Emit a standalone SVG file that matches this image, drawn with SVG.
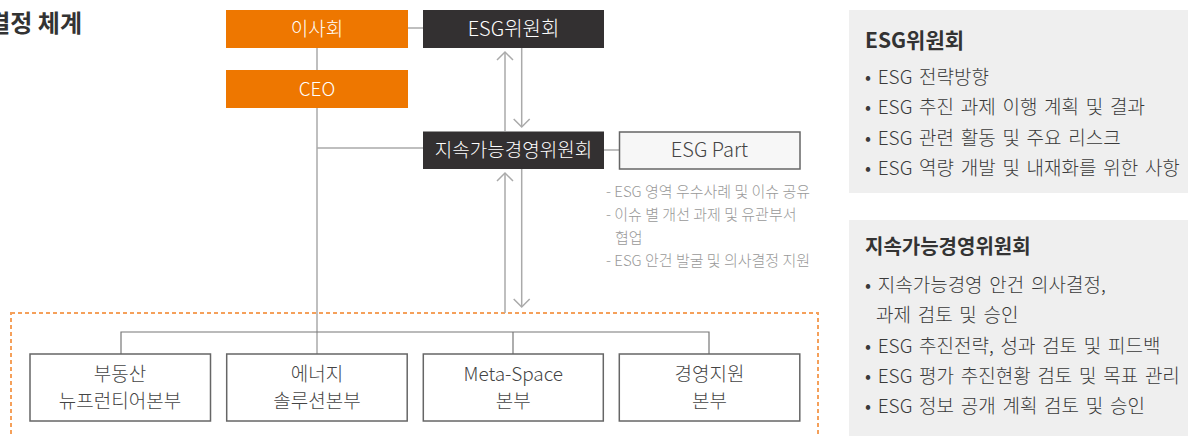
<svg xmlns="http://www.w3.org/2000/svg" width="1188" height="436" viewBox="0 0 1188 436">
<style>
text{font-family:"Noto Sans CJK KR","Noto Sans",sans-serif;}
.orange{fill:#ee7700;}
.dark{fill:#333031;}
.wt{fill:#ffffff;font-size:19px;font-weight:300;text-anchor:middle;}
.box{fill:#ffffff;stroke:#666666;stroke-width:1.5;}
.bt{fill:#444444;font-size:19px;font-weight:300;text-anchor:middle;}
.conn{stroke:#aaaaaa;stroke-width:1.5;fill:none;}
.branch{stroke:#777777;stroke-width:1.2;fill:none;}
.arr{stroke:#aaaaaa;stroke-width:1.5;fill:none;marker-end:url(#chev);}
.note{fill:#999999;font-size:15px;font-weight:300;}
.panel{fill:#efefef;}
.ph{fill:#333333;font-size:20px;font-weight:bold;}
.pt{fill:#3a3a3a;font-size:19px;font-weight:300;word-spacing:2.5px;}
</style>
<defs>
<marker id="chev" viewBox="-10 -10 20 20" refX="0" refY="0" markerWidth="20" markerHeight="20" markerUnits="userSpaceOnUse" orient="auto">
<path d="M-8,-8 L0,0 L-8,8" fill="none" stroke="#aaaaaa" stroke-width="1.5"/>
</marker>
</defs>
<rect width="1188" height="436" fill="#ffffff"/>
<text x="82" y="32" text-anchor="end" style="font-size:24px;font-weight:bold;fill:#333333">결정 체계</text>
<rect x="11" y="313" width="807" height="160" fill="none" stroke="#f5a05a" stroke-width="2" stroke-dasharray="4 3"/>
<g id="connectors">
<line class="conn" x1="408" y1="28" x2="423" y2="28"/>
<line class="conn" x1="317" y1="47" x2="317" y2="70"/>
<line class="conn" x1="317" y1="108" x2="317" y2="354"/>
<line class="conn" x1="317" y1="148" x2="423" y2="148"/>
<line class="conn" x1="604" y1="150" x2="619" y2="150"/>
<line class="arr" x1="505" y1="131" x2="505" y2="52"/>
<line class="arr" x1="521.7" y1="48" x2="521.7" y2="127"/>
<line class="arr" x1="505" y1="313" x2="505" y2="173"/>
<line class="arr" x1="521.7" y1="169" x2="521.7" y2="307"/>
<polyline class="branch" points="121,354 121,332 709,332 709,354"/>
<line class="branch" x1="513" y1="332" x2="513" y2="354"/>
</g>
<g id="board"><rect class="orange" x="226" y="10" width="182" height="38"/><text class="wt" x="317" y="36">이사회</text></g>
<g id="esgcom"><rect class="dark" x="423" y="10" width="181" height="38"/><text class="wt" x="513.5" y="36" style="font-size:20px">ESG위원회</text></g>
<g id="ceo"><rect class="orange" x="226" y="70" width="182" height="38"/><text class="wt" x="317" y="96">CEO</text></g>
<g id="sustcom"><rect class="dark" x="423" y="131.5" width="181" height="37.5"/><text class="wt" x="513.5" y="157">지속가능경영위원회</text></g>
<g id="esgpart"><rect x="619.5" y="132" width="180.5" height="37" fill="#f7f7f7" stroke="#666666" stroke-width="1.5"/><text class="bt" x="709.5" y="157" style="font-size:20px">ESG Part</text></g>
<g id="notes">
<text class="note" x="606" y="197">- ESG 영역 우수사례 및 이슈 공유</text>
<text class="note" x="606" y="220">- 이슈 별 개선 과제 및 유관부서</text>
<text class="note" x="615" y="243">협업</text>
<text class="note" x="606" y="266">- ESG 안건 발굴 및 의사결정 지원</text>
</g>
<g id="div1"><rect class="box" x="30" y="354" width="180.5" height="67"/><text class="bt" x="120" y="381">부동산</text><text class="bt" x="120" y="408">뉴프런티어본부</text></g>
<g id="div2"><rect class="box" x="226.7" y="354" width="180.5" height="67"/><text class="bt" x="317" y="381">에너지</text><text class="bt" x="317" y="408">솔루션본부</text></g>
<g id="div3"><rect class="box" x="423.3" y="354" width="180" height="67"/><text class="bt" x="513.3" y="381">Meta-Space</text><text class="bt" x="513.3" y="408">본부</text></g>
<g id="div4"><rect class="box" x="619.3" y="354" width="180.5" height="67"/><text class="bt" x="709.5" y="381">경영지원</text><text class="bt" x="709.5" y="408">본부</text></g>
<g id="panel1">
<rect class="panel" x="849" y="10" width="339" height="183"/>
<text class="ph" x="865" y="48" style="font-size:21px">ESG위원회</text>
<text class="pt" x="865" y="84">• ESG 전략방향</text>
<text class="pt" x="865" y="114">• ESG 추진 과제 이행 계획 및 결과</text>
<text class="pt" x="865" y="145">• ESG 관련 활동 및 주요 리스크</text>
<text class="pt" x="865" y="175">• ESG 역량 개발 및 내재화를 위한 사항</text>
</g>
<g id="panel2">
<rect class="panel" x="849" y="220" width="339" height="216"/>
<text class="ph" x="865" y="254">지속가능경영위원회</text>
<text class="pt" x="865" y="292">• 지속가능경영 안건 의사결정,</text>
<text class="pt" x="876" y="322">과제 검토 및 승인</text>
<text class="pt" x="865" y="353">• ESG 추진전략, 성과 검토 및 피드백</text>
<text class="pt" x="865" y="383">• ESG 평가 추진현황 검토 및 목표 관리</text>
<text class="pt" x="865" y="413">• ESG 정보 공개 계획 검토 및 승인</text>
</g>
</svg>
